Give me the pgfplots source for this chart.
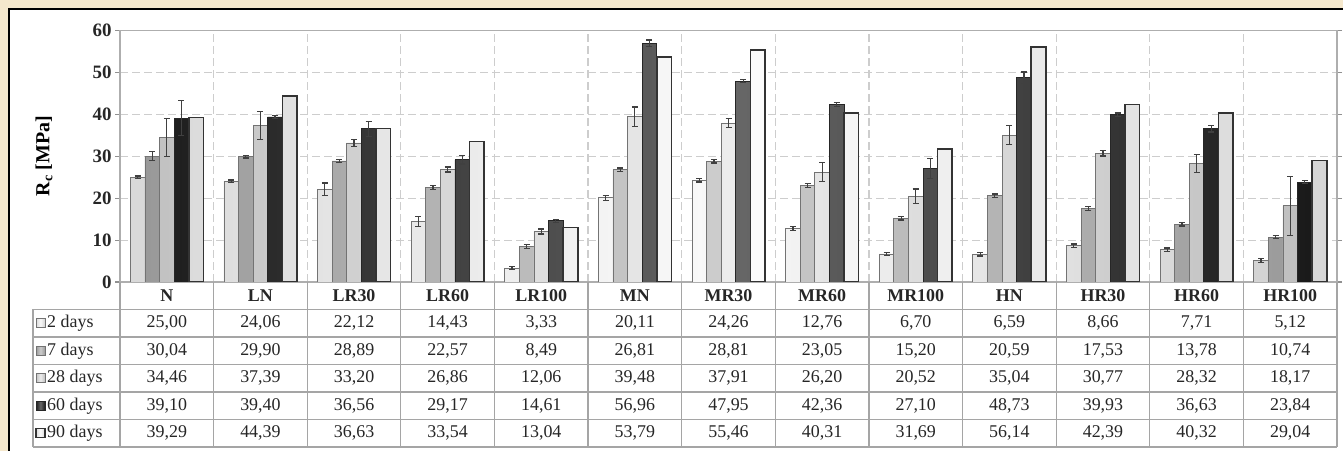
\documentclass[border=0pt]{standalone}
\usepackage{pgfplots}
\pgfplotsset{compat=1.18}
\usepackage{pgfplotstable}
\usepackage{fontspec}
\setmainfont{Liberation Serif}
\definecolor{beige}{RGB}{245,232,205}
\definecolor{gridc}{RGB}{205,205,205}
\definecolor{tabc}{RGB}{165,165,165}
\newcommand{\tf}{\fontsize{18}{20}\selectfont}

\pgfplotstableread{
x y e
0 25.00 0.3
1 24.06 0.3
2 22.12 1.5
3 14.43 1.2
4 3.33 0.4
5 20.11 0.6
6 24.26 0.4
7 12.76 0.4
8 6.70 0.3
9 6.59 0.4
10 8.66 0.4
11 7.71 0.4
12 5.12 0.4
}\dtwo
\pgfplotstableread{
x y e
0 30.04 1.1
1 29.90 0.3
2 28.89 0.4
3 22.57 0.4
4 8.49 0.4
5 26.81 0.4
6 28.81 0.4
7 23.05 0.4
8 15.20 0.4
9 20.59 0.4
10 17.53 0.4
11 13.78 0.4
12 10.74 0.4
}\dseven
\pgfplotstableread{
x y e
0 34.46 4.5
1 37.39 3.4
2 33.20 0.9
3 26.86 0.6
4 12.06 0.6
5 39.48 2.3
6 37.91 1.1
7 26.20 2.3
8 20.52 1.7
9 35.04 2.3
10 30.77 0.7
11 28.32 2.2
12 18.17 7.0
}\dtwentyeight
\pgfplotstableread{
x y e
0 39.10 4.2
1 39.40 0.4
2 36.56 1.8
3 29.17 1.0
4 14.61 0.4
5 56.96 0.8
6 47.95 0.4
7 42.36 0.4
8 27.10 2.3
9 48.73 1.4
10 39.93 0.4
11 36.63 0.8
12 23.84 0.4
}\dsixty
\pgfplotstableread{
x y e
0 39.29 0
1 44.39 0
2 36.63 0
3 33.54 0
4 13.04 0
5 53.79 0
6 55.46 0
7 40.31 0
8 31.69 0
9 56.14 0
10 42.39 0
11 40.32 0
12 29.04 0
}\dninety

\tikzset{
 s2/.style={draw=black!55, line width=0.8bp, left color=gray!30, right color=gray!35, middle color=gray!5},
 s7/.style={draw=black!55, line width=0.8bp, left color=gray!80, right color=gray!78, middle color=gray!40},
 s28/.style={draw=black!55, line width=0.8bp, left color=gray!48, right color=gray!50, middle color=gray!15},
 s60/.style={draw=black!85, line width=0.8bp, left color=black!88, right color=black!90, middle color=black!60},
 s90/.style={draw=black!80, line width=1.6bp, left color=gray!28, right color=gray!32, middle color=gray!3},
}

\begin{document}
\begin{tikzpicture}[x=1bp,y=1bp]
\useasboundingbox (0,0) rectangle (1343,451);
\fill[beige] (0,0) rectangle (1343,451);
\fill[white] (9,0) rectangle (1343,442);
\draw[black, line width=2bp] (9,0) -- (9,442) -- (1343,442);
\begin{axis}[
  at={(120bp,169bp)}, anchor=south west,
  scale only axis, width=1217bp, height=251.3bp,
  ybar=0pt, bar width=14.6bp,
  xmin=-0.5, xmax=12.5, ymin=0, ymax=60,
  xtick={0.5,1.5,...,11.5}, xticklabels={},
  x tick style={draw=none},
  ytick={0,10,...,60},
  xmajorgrids, ymajorgrids,
  grid style={dashed, gridc, line width=1.2bp, dash pattern=on 8bp off 4bp},
  axis line style={gridc!85!black, line width=1.4bp},
  y tick style={gridc!70!black, line width=1.2bp},
  tick align=outside, major tick length=5bp,
  /pgf/number format/assume math mode=true,
  yticklabel style={font=\fontsize{19}{21}\selectfont\bfseries, text=black!85},
  error bars/error bar style={black!75, line width=1.2bp},
  error bars/error mark options={rotate=90, black!75, line width=1.2bp, mark size=3bp},
]
\addplot[s2, error bars/.cd, y dir=both, y explicit] table[x=x, y=y, y error=e]{\dtwo};
\addplot[s7, error bars/.cd, y dir=both, y explicit] table[x=x, y=y, y error=e]{\dseven};
\addplot[s28, error bars/.cd, y dir=both, y explicit] table[x=x, y=y, y error=e]{\dtwentyeight};
\addplot[s60, error bars/.cd, y dir=both, y explicit] table[x=x, y=y, y error=e]{\dsixty};
\addplot[s90] table[x=x, y=y]{\dninety};
\end{axis}
% y label
\node[rotate=90, font=\fontsize{20}{22}\selectfont\bfseries] at (44,295) {R\textsubscript{c} [MPa]};
% table grid
\foreach \yy in {141.5,114,86.5,59,31.5,4} \draw[tabc, line width=1.2bp] (33,\yy) -- (1337,\yy);
\draw[tabc, line width=1.2bp] (33,141.5) -- (33,4);
\foreach \k in {0,...,13} \draw[tabc, line width=1.2bp] ({120+93.615*\k},169) -- ({120+93.615*\k},4);
% header
\foreach \n [count=\i from 0] in {N,LN,LR30,LR60,LR100,MN,MR30,MR60,MR100,HN,HR30,HR60,HR100}
  \node[font=\tf\bfseries, text=black!85] at ({120+93.615*(\i+0.5)},155.25) {\n};
% rows
\newcommand{\tabrow}[4]{%
  \draw[#3] (36,#1-4.5) rectangle (45,#1+4.5);
  \node[anchor=west, font=\tf, text=black!85, inner sep=0pt] at (47,#1) {#2};
  \foreach \v [count=\i from 0] in {#4}
    \node[font=\tf, text=black!85] at ({120+93.615*(\i+0.5)},#1)
      {\pgfmathprintnumber[fixed, fixed zerofill, precision=2, use comma, assume math mode=true]{\v}};
}
\tabrow{127.75}{2 days}{s2, line width=0.8bp}{25.00,24.06,22.12,14.43,3.33,20.11,24.26,12.76,6.70,6.59,8.66,7.71,5.12}
\tabrow{100.25}{7 days}{s7, line width=0.8bp}{30.04,29.90,28.89,22.57,8.49,26.81,28.81,23.05,15.20,20.59,17.53,13.78,10.74}
\tabrow{72.75}{28 days}{s28, line width=0.8bp}{34.46,37.39,33.20,26.86,12.06,39.48,37.91,26.20,20.52,35.04,30.77,28.32,18.17}
\tabrow{45.25}{60 days}{s60, line width=0.8bp}{39.10,39.40,36.56,29.17,14.61,56.96,47.95,42.36,27.10,48.73,39.93,36.63,23.84}
\tabrow{17.75}{90 days}{s90, line width=1.2bp}{39.29,44.39,36.63,33.54,13.04,53.79,55.46,40.31,31.69,56.14,42.39,40.32,29.04}
\end{tikzpicture}
\end{document}
